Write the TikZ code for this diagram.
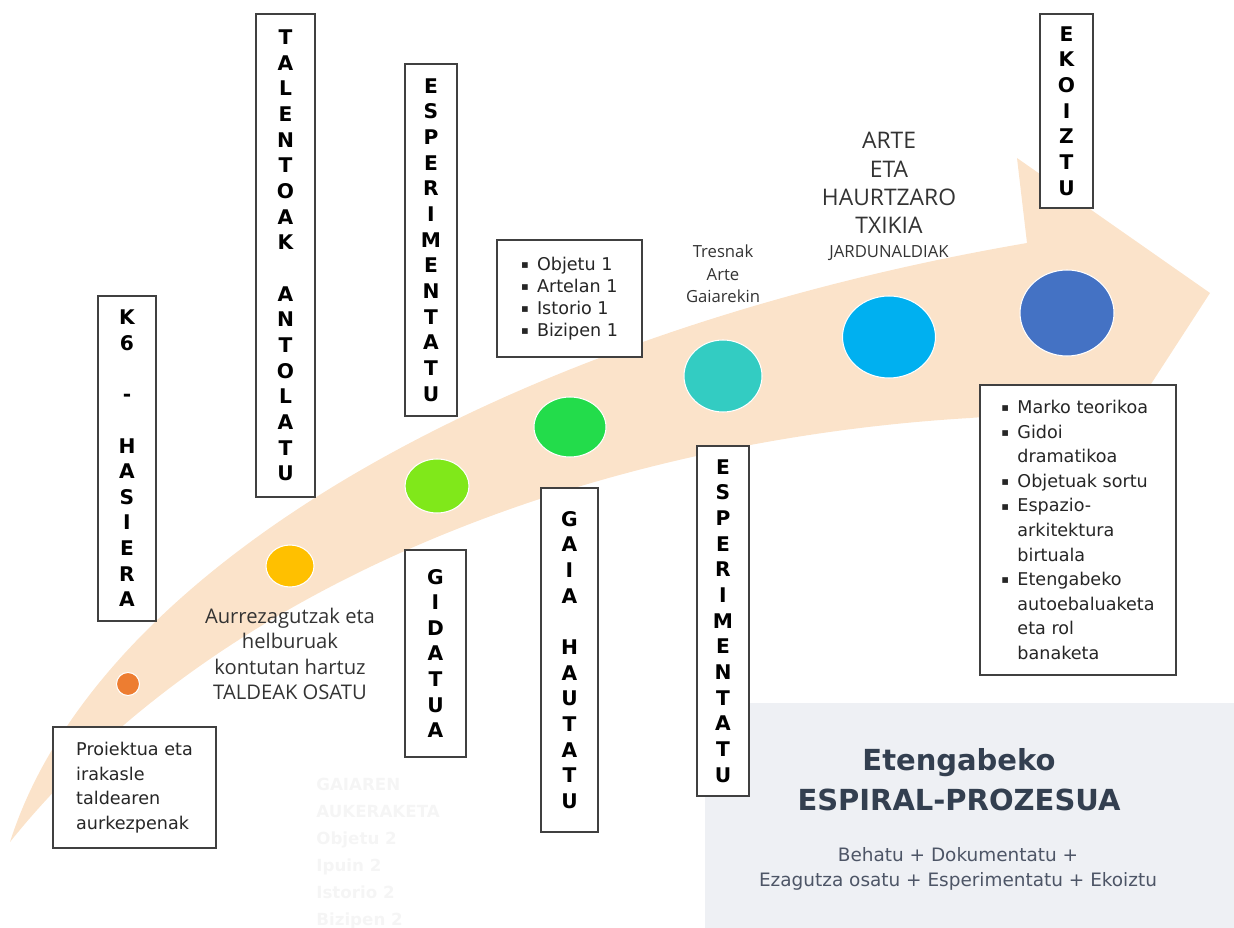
\documentclass[tikz,border=0pt]{standalone}
\usepackage{fontspec}
\setmainfont{DejaVu Sans}
\newfontfamily\osans{Open Sans}
\usetikzlibrary{positioning,shapes.geometric}

\definecolor{peach}{HTML}{FBE3CA}
\definecolor{panel}{HTML}{EEF0F4}
\definecolor{txtgray}{HTML}{333333}
\definecolor{slate}{HTML}{333F50}
\definecolor{subgray}{HTML}{4D5566}
\definecolor{c1}{HTML}{ED7D31}
\definecolor{c2}{HTML}{FFC000}
\definecolor{c3}{HTML}{80E81A}
\definecolor{c4}{HTML}{23DC4B}
\definecolor{c5}{HTML}{33CCC2}
\definecolor{c6}{HTML}{00B0F0}
\definecolor{c7}{HTML}{4472C4}

\newcommand\bul{\makebox[0.32cm][l]{\raisebox{1pt}{\fontsize{6.5}{8}\selectfont ▪}}}
\newcommand\cont{\hspace*{0.32cm}}

\tikzset{
  vbox/.style={draw=black!75, line width=0.9pt, fill=white, align=center,
    inner sep=0pt, font=\bfseries\fontsize{11.5}{14.6}\selectfont},
  lbox/.style={draw=black!75, line width=0.9pt, fill=white, align=left,
    inner sep=0pt, text=black!85, font=\fontsize{10}{14}\selectfont},
  dot/.style={ellipse, draw=white, line width=0.6pt, inner sep=0pt},
  lbl/.style={align=center, inner sep=0pt, text=txtgray,
    font=\osans\fontsize{11.5}{14.5}\selectfont},
}

\begin{document}
\begin{tikzpicture}[x=0.02cm, y=-0.02cm]
  \useasboundingbox (0,0) rectangle (1234,928);
  % Background band and panel
  \fill[peach] (10,842) .. controls (100,560) and (520,330) .. (1027,243)
    -- (1017,158) -- (1210,293) -- (1105,455) -- (1095,409) -- (970,418)
    .. controls (600,440) and (220,580) .. (10,842) -- cycle;
  \fill[panel] (705,703) rectangle (1234,928);

  % Define nodes
  \node[dot, fill=c1, minimum width=0.46cm, minimum height=0.46cm] (s1) at (128,684) {};
  \node[dot, fill=c2, minimum width=0.96cm, minimum height=0.84cm] (s2) at (290,566) {};
  \node[dot, fill=c3, minimum width=1.28cm, minimum height=1.08cm] (s3) at (437,486) {};
  \node[dot, fill=c4, minimum width=1.44cm, minimum height=1.20cm] (s4) at (570,427) {};
  \node[dot, fill=c5, minimum width=1.56cm, minimum height=1.44cm] (s5) at (723,376) {};
  \node[dot, fill=c6, minimum width=1.86cm, minimum height=1.64cm] (s6) at (889,337) {};
  \node[dot, fill=c7, minimum width=1.88cm, minimum height=1.72cm] (s7) at (1067,313) {};

  \node[vbox, minimum width=1.16cm, minimum height=6.50cm] (hasiera) at (127,458.5)
    {K\\6\\~\\-\\~\\H\\A\\S\\I\\E\\R\\A};
  \node[vbox, minimum width=1.18cm, minimum height=9.66cm] (talent) at (285.5,255.5)
    {T\\A\\L\\E\\N\\T\\O\\A\\K\\~\\A\\N\\T\\O\\L\\A\\T\\U};
  \node[vbox, minimum width=1.04cm, minimum height=7.04cm] (esp) at (431,240)
    {E\\S\\P\\E\\R\\I\\M\\E\\N\\T\\A\\T\\U};
  \node[vbox, minimum width=1.22cm, minimum height=4.14cm] (gidatu) at (435.5,653.5)
    {G\\I\\D\\A\\T\\U\\A};
  \node[vbox, minimum width=1.14cm, minimum height=6.88cm] (gaia) at (569.5,660)
    {G\\A\\I\\A\\~\\H\\A\\U\\T\\A\\T\\U};
  \node[vbox, minimum width=1.04cm, minimum height=7.00cm] (espb) at (723,621)
    {E\\S\\P\\E\\R\\I\\M\\E\\N\\T\\A\\T\\U};
  \node[vbox, minimum width=1.06cm, minimum height=3.88cm] (ekoiztu) at (1066.5,111)
    {E\\K\\O\\I\\Z\\T\\U};

  \node[lbox, minimum width=3.26cm, minimum height=2.42cm] (proi) at (134.5,787.5)
    {Proiektua eta\\irakasle\\taldearen\\aurkezpenak};
  \node[lbox, minimum width=2.90cm, minimum height=2.34cm,
    font=\fontsize{10}{12.5}\selectfont] (obj) at (569.5,298.5)
    {\bul Objetu 1\\\bul Artelan 1\\\bul Istorio 1\\\bul Bizipen 1};
  \node[lbox, minimum width=3.92cm, minimum height=5.80cm] (marko) at (1078,530)
    {\bul Marko teorikoa\\\bul Gidoi\\\cont dramatikoa\\\bul Objetuak sortu\\
     \bul Espazio-\\\cont arkitektura\\\cont birtuala\\\bul Etengabeko\\
     \cont autoebaluaketa\\\cont eta rol\\\cont banaketa};

  \node[lbl, below=0.4cm of s2] (taldeak)
    {Aurrezagutzak eta\\helburuak\\kontutan hartuz\\TALDEAK OSATU};
  \node[lbl, above=0.72cm of s5, font=\osans\fontsize{9.5}{13}\selectfont] (tresnak)
    {Tresnak\\Arte\\Gaiarekin};
  \node[lbl, above=0.68cm of s6, font=\osans\fontsize{9.5}{12}\selectfont] (jard)
    {JARDUNALDIAK};
  \node[lbl, above=0.24cm of jard, font=\osans\fontsize{13}{16}\selectfont] (arte)
    {ARTE\\ETA\\HAURTZARO\\TXIKIA};

  \node[align=left, anchor=north west, inner sep=0pt, text=white!96!black,
    font=\bfseries\fontsize{9.5}{15.3}\selectfont] (aukera) at (316,778)
    {GAIAREN\\AUKERAKETA\\Objetu 2\\Ipuin 2\\Istorio 2\\Bizipen 2};

  \node[align=center, inner sep=0pt, text=slate,
    font=\bfseries\fontsize{16.5}{22.7}\selectfont] (title) at (959,780)
    {Etengabeko\\ESPIRAL-PROZESUA};
  \node[align=center, inner sep=0pt, text=subgray,
    font=\fontsize{10.5}{14.2}\selectfont] (sub) at (958,869)
    {Behatu + Dokumentatu +\\Ezagutza osatu + Esperimentatu + Ekoiztu};
\end{tikzpicture}
\end{document}
